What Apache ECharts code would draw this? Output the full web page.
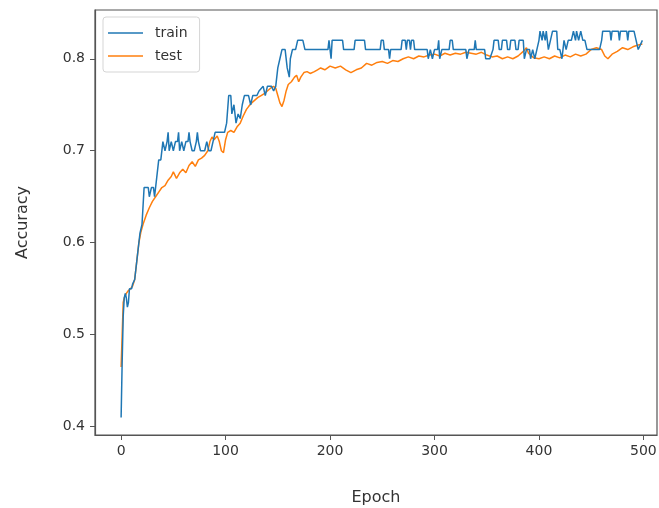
<!DOCTYPE html>
<html>
<head>
<meta charset="utf-8">
<script src="https://cdn.jsdelivr.net/npm/echarts@6/dist/echarts.min.js"></script>
<style>html,body{margin:0;padding:0;background:#fff}#c{width:659px;height:508px}</style>
</head>
<body>
<div id="c"></div>
<script>
const xTicks = [0, 100, 200, 300, 400, 500];
const yTicks = [0.4, 0.5, 0.6, 0.7, 0.8];

const train = [
[0,0.41],[1,0.47],[2,0.52],[3,0.54],[4,0.545],[5,0.54],[6,0.53],[7,0.535],[8,0.55],[10,0.55],[11,0.555],[13,0.56],[15,0.58],[17,0.60],[18,0.61],[20,0.62],[21,0.64],[22,0.66],[26,0.66],[27,0.65],[29,0.66],[31,0.66],[32,0.65],[34,0.67],[36,0.69],[38,0.69],[40,0.71],[42,0.70],[44,0.71],[45,0.72],[46,0.70],[48,0.71],[50,0.70],[52,0.71],[54,0.71],[55,0.72],[56,0.70],[58,0.71],[60,0.70],[62,0.71],[64,0.71],[65,0.72],[66,0.71],[68,0.70],[70,0.70],[72,0.71],[73,0.72],[74,0.71],[76,0.70],[80,0.70],[82,0.71],[84,0.70],[86,0.70],[88,0.71],[90,0.72],[97,0.72],[99,0.72],[101,0.73],[103,0.76],[105,0.76],[106,0.74],[108,0.75],[110,0.73],[112,0.74],[114,0.735],[116,0.75],[118,0.76],[122,0.76],[124,0.75],[126,0.76],[130,0.76],[132,0.765],[136,0.77],[138,0.76],[140,0.77],[144,0.77],[146,0.765],[148,0.77],[150,0.79],[152,0.80],[154,0.81],[157,0.81],[159,0.79],[161,0.78],[162,0.80],[164,0.81],[167,0.81],[169,0.82],[174,0.82],[176,0.81],
[198,0.81],[199,0.82],[200,0.82],[201,0.80],[202,0.82],[212,0.82],[213,0.81],[223,0.81],[224,0.82],[233,0.82],[234,0.81],[248,0.81],[249,0.82],[251,0.82],[252,0.81],[256,0.81],[257,0.80],[258,0.81],[268,0.81],[269,0.82],[272,0.82],[273,0.81],[274,0.82],[276,0.82],[277,0.81],[278,0.82],[280,0.82],[281,0.81],[293,0.81],[294,0.80],[295,0.80],[296,0.81],[298,0.80],[300,0.81],[303,0.81],[304,0.82],[305,0.80],[307,0.81],[314,0.81],[315,0.82],[317,0.82],[318,0.81],[330,0.81],[331,0.80],[333,0.81],[338,0.81],[339,0.82],[340,0.81],[348,0.81],[349,0.80],[353,0.80],[356,0.81],[357,0.82],[361,0.82],[362,0.81],[364,0.81],[365,0.82],[369,0.82],[370,0.81],[372,0.81],[373,0.82],[377,0.82],[378,0.81],[380,0.81],[381,0.82],[385,0.82],[386,0.80],[388,0.81],[391,0.81],[392,0.80],[394,0.81],[396,0.80],[398,0.81],[400,0.82],[401,0.83],[403,0.82],[404,0.83],[406,0.82],[407,0.83],[409,0.81],[411,0.82],[413,0.83],[417,0.83],[418,0.81],[420,0.81],[422,0.80],[424,0.82],[426,0.81],[428,0.82],[431,0.82],[433,0.83],[435,0.82],[436,0.83],[438,0.82],[440,0.83],[442,0.82],[444,0.82],[446,0.81],[458,0.81],[460,0.82],[461,0.83],[468,0.83],[469,0.82],[470,0.83],[476,0.83],[477,0.82],[478,0.83],[484,0.83],[485,0.82],[486,0.83],[491,0.83],[493,0.82],[495,0.81],[497,0.815],[499,0.82]
];

const test = [
[0,0.465],[1,0.50],[2,0.535],[3,0.54],[5,0.545],[7,0.548],[9,0.55],[11,0.553],[13,0.56],[15,0.58],[17,0.60],[19,0.612],[21,0.62],[24,0.63],[27,0.638],[30,0.645],[33,0.65],[36,0.655],[39,0.66],[42,0.662],[45,0.668],[48,0.672],[50,0.677],[53,0.67],[56,0.676],[59,0.68],[62,0.676],[65,0.684],[68,0.688],[71,0.683],[74,0.69],[77,0.692],[80,0.695],[83,0.70],[85,0.71],[87,0.715],[89,0.712],[92,0.716],[94,0.71],[96,0.70],[98,0.698],[100,0.712],[102,0.72],[105,0.722],[108,0.72],[111,0.726],[114,0.73],[117,0.738],[120,0.745],[122,0.748],[125,0.752],[128,0.755],[131,0.758],[134,0.76],[137,0.762],[140,0.765],[143,0.768],[146,0.77],[148,0.768],[150,0.76],[152,0.752],[154,0.748],[156,0.755],[158,0.765],[160,0.772],[163,0.775],[166,0.78],[168,0.782],[170,0.775],[172,0.78],[175,0.785],[178,0.786],[181,0.784],[185,0.786],[188,0.788],[191,0.79],[195,0.788],[200,0.792],[205,0.79],[210,0.792],[215,0.788],[220,0.785],[225,0.788],[230,0.79],[235,0.795],[240,0.793],[245,0.796],[250,0.797],[255,0.795],[260,0.798],[265,0.797],[270,0.80],[275,0.802],[280,0.80],[285,0.803],[290,0.802],[295,0.804],[300,0.805],[305,0.803],[310,0.806],[315,0.804],[320,0.806],[325,0.805],[330,0.807],[335,0.806],[340,0.805],[345,0.807],[350,0.804],[355,0.802],[360,0.803],[365,0.80],[370,0.802],[375,0.80],[380,0.803],[385,0.808],[388,0.812],[390,0.806],[395,0.801],[400,0.80],[405,0.802],[410,0.80],[415,0.803],[420,0.801],[425,0.804],[430,0.802],[435,0.805],[440,0.803],[445,0.805],[450,0.81],[455,0.812],[460,0.81],[463,0.803],[466,0.80],[470,0.805],[475,0.808],[480,0.812],[485,0.81],[490,0.813],[495,0.815],[499,0.816]
];

const chart = echarts.init(document.getElementById('c'), null, {renderer: 'canvas'});
const font = 'DejaVu Sans';
const lineIcon = 'path://M0,0 L35,0 L35,1.6 L0,1.6 Z';
chart.setOption({
  animation: false,
  backgroundColor: '#fff',
  grid: {left: 95, right: 2, top: 10, bottom: 73, show: true, borderColor: '#555', borderWidth: 1.2,
    containLabel: false, outerBoundsMode: 'none'},
  legend: {
    left: 103, top: 17, orient: 'vertical',
    padding: [8, 12, 8, 5], itemGap: 7, itemWidth: 35, itemHeight: 1.6,
    borderColor: '#d5d5d5', borderWidth: 1, borderRadius: 3,
    backgroundColor: 'rgba(255,255,255,0.8)',
    textStyle: {fontFamily: font, fontSize: 14, color: '#333', lineHeight: 16, padding: [0,0,0,7]},
    data: [{name: 'train', icon: lineIcon}, {name: 'test', icon: lineIcon}]
  },
  xAxis: {
    type: 'value', min: -25, max: 513,
    name: 'Epoch', nameLocation: 'middle', nameGap: 55,
    nameTextStyle: {fontFamily: font, fontSize: 16, color: '#333'},
    axisLine: {show: true, onZero: false, lineStyle: {color: '#555', width: 1.2}},
    axisTick: {show: true, length: 5, customValues: xTicks, lineStyle: {color: '#555'}},
    axisLabel: {customValues: xTicks, fontFamily: font, fontSize: 14, color: '#333', margin: 9},
    splitLine: {show: false}
  },
  yAxis: {
    type: 'value', min: 0.391, max: 0.853,
    name: 'Accuracy', nameLocation: 'middle', nameGap: 64,
    nameTextStyle: {fontFamily: font, fontSize: 16, color: '#333'},
    axisLine: {show: true, onZero: false, lineStyle: {color: '#555', width: 1.2}},
    axisTick: {show: true, length: 5, customValues: yTicks, lineStyle: {color: '#555'}},
    axisLabel: {customValues: yTicks, fontFamily: font, fontSize: 14, color: '#333', margin: 10,
      formatter: v => v.toFixed(1)},
    splitLine: {show: false}
  },
  series: [
    {name: 'train', type: 'line', data: train, symbol: 'none', lineStyle: {color: '#1f77b4', width: 1.5}, itemStyle: {color: '#1f77b4'}, z: 3},
    {name: 'test', type: 'line', data: test, symbol: 'none', lineStyle: {color: '#ff7f0e', width: 1.5}, itemStyle: {color: '#ff7f0e'}, z: 2}
  ]
});
</script>
</body>
</html>
